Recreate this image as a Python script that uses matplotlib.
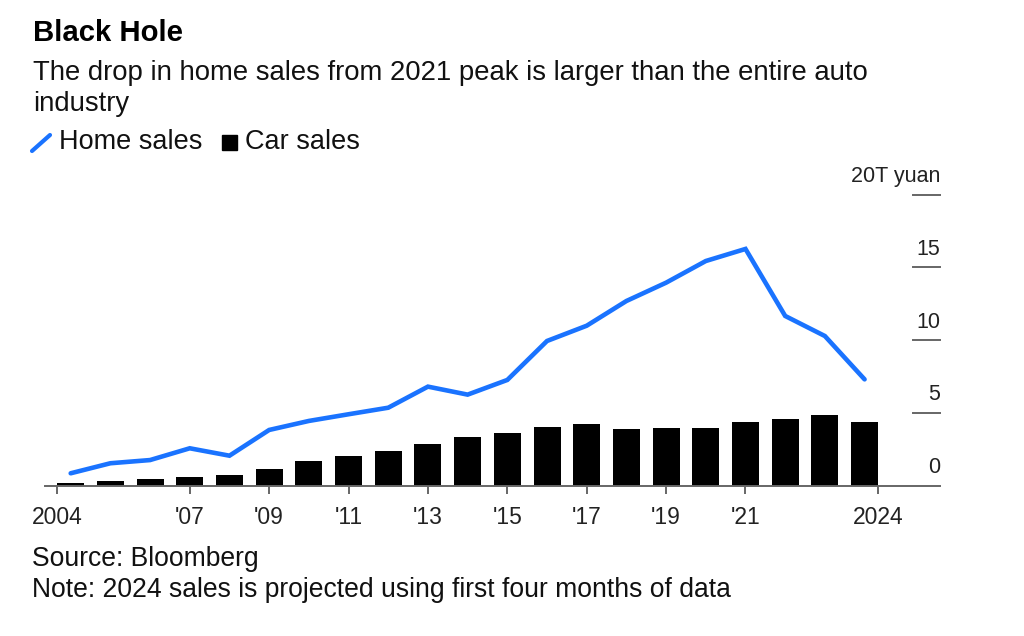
"""Black Hole: China home sales vs car sales"""

import matplotlib
matplotlib.use("Agg")
import matplotlib.pyplot as plt
from matplotlib.lines import Line2D
from matplotlib.patches import Rectangle
from matplotlib.transforms import blended_transform_factory

plt.rcParams['font.family'] = ['Liberation Sans', 'DejaVu Sans']

# data, trillion yuan
years = list(range(2004, 2025))
home_sales = [0.84, 1.53, 1.75, 2.56, 2.05, 3.82, 4.44, 4.90, 5.35, 6.80, 6.25,
              7.26, 9.94, 10.99, 12.69, 13.95, 15.44, 16.27, 11.66, 10.28, 7.30]
car_sales = [0.15, 0.33, 0.43, 0.56, 0.70, 1.13, 1.66, 2.05, 2.37, 2.87, 3.31,
             3.59, 4.02, 4.21, 3.86, 3.93, 3.93, 4.35, 4.55, 4.85, 4.35]

x_ticks = [2004, 2007, 2009, 2011, 2013, 2015, 2017, 2019, 2021, 2024]
x_labels = ["2004", "'07", "'09", "'11", "'13", "'15", "'17", "'19", "'21", "2024"]
y_ticks = [0, 5, 10, 15, 20]
y_labels = ["0", "5", "10", "15", "20T yuan"]

W, H = 1024, 636
BLUE = '#1a73ff'
GREY = '#666666'
BAR_W = 0.68


def px(x, y):
    """pixel position (from top left) -> figure fraction"""
    return x / W, 1 - y / H


fig = plt.figure(figsize=(W / 100, H / 100), dpi=100)
ax = fig.add_axes([45 / W, 1 - 485.5 / H, 895 / W, (485.5 - 172.9) / H])

ax.bar(years, car_sales, width=BAR_W, color='black', zorder=2)
ax.plot(years, home_sales, color=BLUE, lw=3.3, solid_joinstyle='miter',
        solid_capstyle='round', zorder=3)

ax.set_xlim(2003.353, 2025.90)
ax.set_ylim(0, 21.5)

for side in ['top', 'left', 'right']:
    ax.spines[side].set_visible(False)
ax.spines['bottom'].set_color(GREY)
ax.spines['bottom'].set_linewidth(1.4)

# first and last ticks sit on the outer bar edges
tick_pos = list(x_ticks)
tick_pos[0] = x_ticks[0] - BAR_W / 2
tick_pos[-1] = x_ticks[-1] + BAR_W / 2
ax.set_xticks(tick_pos)
ax.set_xticklabels(x_labels)
ax.tick_params(axis='x', length=6, width=1.4, color=GREY, pad=9,
               labelsize=16.5, labelcolor='#222222')
ax.set_yticks([])

# right-side value scale: short dashes with labels above
trans = blended_transform_factory(ax.transAxes, ax.transData)
for val, lab in zip(y_ticks, y_labels):
    if val > 0:
        ax.plot([0.970, 1.0], [val, val], color=GREY, lw=1.4, transform=trans,
                clip_on=False)
    ax.annotate(lab, xy=(1.0, val), xycoords=trans, xytext=(0, 9),
                textcoords='offset points', ha='right', va='baseline',
                fontsize=15.5, color='#222222')

# title, subtitle
fig.text(*px(33, 33), "Black Hole", fontsize=21.2, fontweight='bold',
         va='center', ha='left', color='black')
fig.text(*px(33, 73), "The drop in home sales from 2021 peak is larger than the entire auto",
         fontsize=19.8, va='center', ha='left', color='#111111')
fig.text(*px(33, 104), "industry", fontsize=19.8, va='center', ha='left', color='#111111')

# legend
x0, y0 = px(32, 151)
x1, y1 = px(50, 135)
fig.add_artist(Line2D([x0, x1], [y0, y1], color=BLUE, lw=3, solid_capstyle='round',
                      transform=fig.transFigure))
fig.text(*px(59, 142), "Home sales", fontsize=19.5, va='center', ha='left', color='#111111')
sx, sy = px(222, 150)
fig.add_artist(Rectangle((sx, sy), 15 / W, 15 / H, color='black',
                         transform=fig.transFigure))
fig.text(*px(245, 142), "Car sales", fontsize=19.5, va='center', ha='left', color='#111111')

# footer
fig.text(*px(32, 559), "Source: Bloomberg", fontsize=19.1, va='center', ha='left',
         color='#111111')
fig.text(*px(32, 590), "Note: 2024 sales is projected using first four months of data",
         fontsize=19.1, va='center', ha='left', color='#111111')

fig.savefig('out.png', dpi=100, facecolor='white')
